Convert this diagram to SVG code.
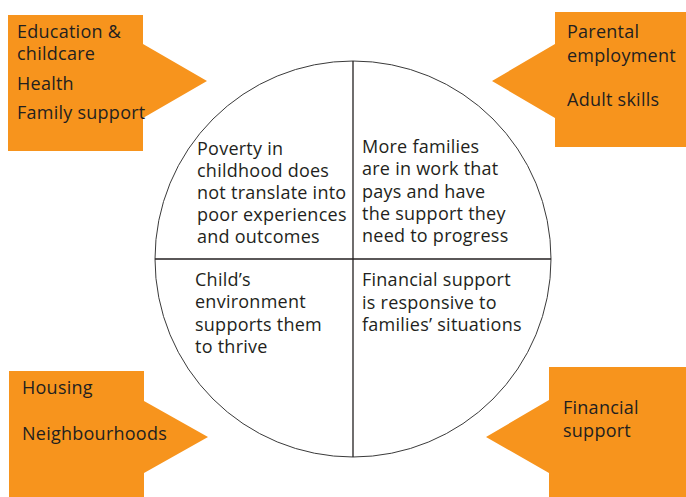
<svg xmlns="http://www.w3.org/2000/svg" width="686" height="497" viewBox="0 0 686 497">
<style>
.box{fill:#f7941d;stroke:none}
.t{font-family:"Open Sans","Noto Sans","Liberation Sans",sans-serif;font-size:18px;letter-spacing:0.25px;fill:#231f20}
.line{stroke:#231f20;stroke-width:1.3;fill:none}
.circ{stroke:#3a3a3a;stroke-width:1;fill:none}
</style>
<rect width="686" height="497" fill="#fff"/>
<g id="connectors">
<circle class="circ" cx="353" cy="259" r="198"/>
<line class="line" x1="353" y1="61" x2="353" y2="457"/>
<line class="line" x1="155" y1="259" x2="551" y2="259"/>
</g>
<g id="callout-tl">
<path class="box" d="M8 15H143V44L207 81L143 118V151H8Z"/>
<text class="t" x="17" y="38">Education &amp;</text>
<text class="t" x="17" y="60">childcare</text>
<text class="t" x="17" y="90">Health</text>
<text class="t" x="17" y="119">Family support</text>
</g>
<g id="callout-tr">
<path class="box" d="M555 12H686V147H555V118L492 81L555 44Z"/>
<text class="t" x="567" y="38">Parental</text>
<text class="t" x="567" y="62">employment</text>
<text class="t" x="567" y="106">Adult skills</text>
</g>
<g id="callout-bl">
<path class="box" d="M9 371H144V401L208 437L144 473V497H9Z"/>
<text class="t" x="22" y="394">Housing</text>
<text class="t" x="22" y="440">Neighbourhoods</text>
</g>
<g id="callout-br">
<path class="box" d="M549 367H686V497H549V473L486 437L549 400Z"/>
<text class="t" x="563" y="414">Financial</text>
<text class="t" x="563" y="437">support</text>
</g>
<g id="q-tl">
<text class="t" x="197" y="155">Poverty in</text>
<text class="t" x="197" y="177">childhood does</text>
<text class="t" x="197" y="199">not translate into</text>
<text class="t" x="197" y="221">poor experiences</text>
<text class="t" x="197" y="243">and outcomes</text>
</g>
<g id="q-tr">
<text class="t" x="362" y="153">More families</text>
<text class="t" x="362" y="175">are in work that</text>
<text class="t" x="362" y="198">pays and have</text>
<text class="t" x="362" y="220">the support they</text>
<text class="t" x="362" y="242">need to progress</text>
</g>
<g id="q-bl">
<text class="t" x="195" y="286">Child’s</text>
<text class="t" x="195" y="308">environment</text>
<text class="t" x="195" y="331">supports them</text>
<text class="t" x="195" y="353">to thrive</text>
</g>
<g id="q-br">
<text class="t" x="362" y="286">Financial support</text>
<text class="t" x="362" y="309">is responsive to</text>
<text class="t" x="362" y="331">families’ situations</text>
</g>
</svg>
